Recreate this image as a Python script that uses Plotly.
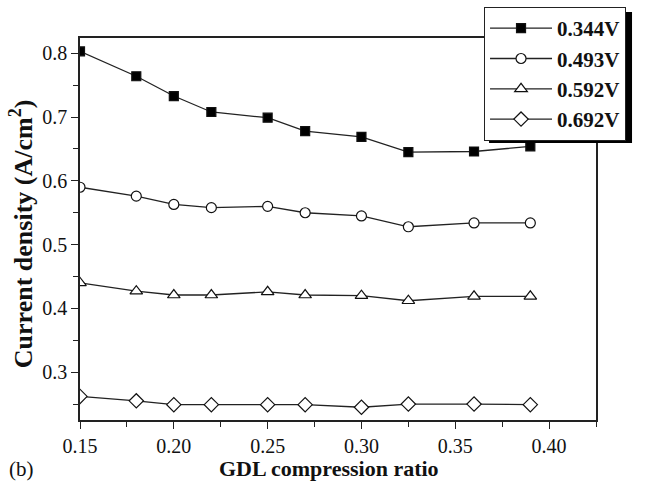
import plotly.graph_objects as go

x_ratio = [0.15, 0.18, 0.20, 0.22, 0.25, 0.27, 0.30, 0.325, 0.36, 0.39]
v0344 = [0.803, 0.764, 0.733, 0.708, 0.699, 0.678, 0.669, 0.645, 0.646, 0.654]
v0493 = [0.590, 0.576, 0.563, 0.558, 0.560, 0.550, 0.545, 0.528, 0.534, 0.534]
v0592 = [0.440, 0.427, 0.421, 0.421, 0.426, 0.421, 0.420, 0.412, 0.419, 0.419]
v0692 = [0.262, 0.255, 0.249, 0.249, 0.249, 0.249, 0.245, 0.250, 0.250, 0.249]
names = ["0.344V", "0.493V", "0.592V", "0.692V"]

series = [v0344, v0493, v0592, v0692]
symbols = ["square", "circle", "triangle-up", "diamond"]
fills = ["black", "white", "white", "white"]
sizes = [9, 10, 11, 11]

FONT = "Liberation Serif"

fig = go.Figure()
for i, (ys, sym, fc, sz, nm) in enumerate(zip(series, symbols, fills, sizes, names)):
    fig.add_trace(go.Scatter(
        x=x_ratio, y=ys, mode="lines+markers", name=nm,
        legendgroup=f"g{i}",
        line=dict(color="#222", width=1.3),
        marker=dict(symbol=sym, size=sz, color=fc, line=dict(color="#111", width=1.2)),
    ))

axis_common = dict(
    showline=True, linecolor="#222", linewidth=1.6, mirror=True,
    ticks="outside", ticklen=7, tickwidth=1.3, tickcolor="#222",
    showgrid=False, zeroline=False,
    tickfont=dict(family=FONT, size=20, color="#111"),
)

fig.update_xaxes(range=[0.15, 0.425], dtick=0.05, tickformat=".2f",
                 minor=dict(dtick=0.025, ticks="outside", ticklen=5, tickcolor="#222", tickwidth=1.2),
                 **axis_common)
fig.update_yaxes(range=[0.225, 0.824], dtick=0.1, tickformat=".1f",
                 minor=dict(dtick=0.05, ticks="outside", ticklen=5, tickcolor="#222", tickwidth=1.2),
                 **axis_common)

LX, LY = 0.783, 1.081
fig.update_layout(
    width=645, height=482,
    margin=dict(l=80, r=49, t=38, b=62, autoexpand=False),
    plot_bgcolor="white", paper_bgcolor="white",
    font=dict(family=FONT, color="#111"),
    showlegend=True,
    legend=dict(
        x=LX, y=LY, xanchor="left", yanchor="top",
        bgcolor="white", bordercolor="#222", borderwidth=1,
        font=dict(family=FONT, size=21, color="#111", weight="bold"),
        tracegroupgap=0, itemwidth=62,
    ),
    annotations=[
        dict(text="<b>Current density (A/cm<sup>2</sup>)</b>", xref="paper", yref="paper",
             x=-0.112, y=0.487, xanchor="center", yanchor="middle", textangle=-90,
             showarrow=False, font=dict(family=FONT, size=26, color="#111")),
        dict(text="<b>GDL compression ratio</b>", xref="paper", yref="paper",
             x=0.483, y=-0.128, xanchor="center", yanchor="middle",
             showarrow=False, font=dict(family=FONT, size=22, color="#111")),
        dict(text="(b)", xref="paper", yref="paper",
             x=-0.114, y=-0.128, xanchor="center", yanchor="middle",
             showarrow=False, font=dict(family=FONT, size=21, color="#111")),
    ],
    shapes=[
        dict(type="rect", xref="paper", yref="paper", layer="above",
             x0=LX + 5/516, x1=LX + 148/516, y0=LY - 136/382, y1=LY - 5/382,
             fillcolor="black", line=dict(width=0)),
    ],
)

fig.write_html("out.html")
